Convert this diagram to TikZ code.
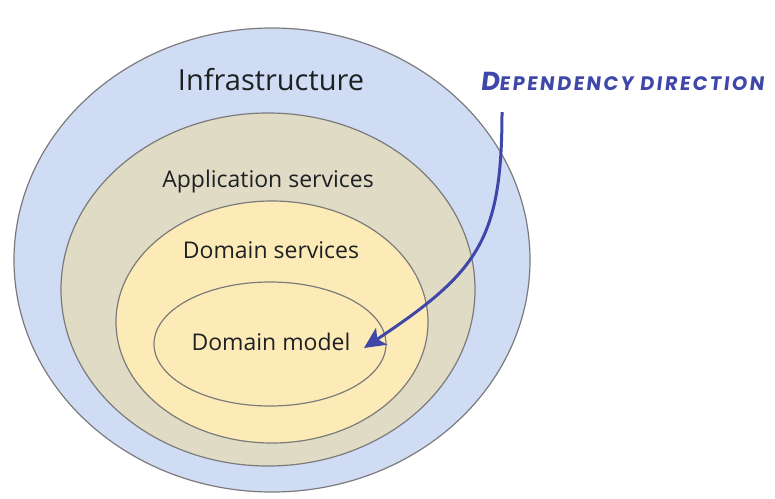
\documentclass[tikz,border=0pt]{standalone}
\usepackage{fontspec}
\setmainfont{Open Sans}
\newfontfamily\labelfont{Open Sans}
\newfontfamily\handfont[FakeSlant=0.12,LetterSpace=12]{Poppins}
\usetikzlibrary{shapes.geometric,arrows.meta}
\definecolor{infrablue}{HTML}{D0DCF4}
\definecolor{appbeige}{HTML}{E0DBC4}
\definecolor{domyellow}{HTML}{FDEBB7}
\definecolor{ringgray}{HTML}{7B7B7B}
\definecolor{depblue}{HTML}{3F47A8}
\definecolor{labelink}{HTML}{1E2124}
\tikzset{
  ring/.style={ellipse, draw=ringgray, line width=1.2pt, inner sep=0pt, outer sep=0pt},
  lbl/.style={text=labelink, inner sep=0pt, anchor=base},
  deparrow/.style={draw=depblue, line width=3pt, -{Stealth[length=21pt,width=20pt,inset=5pt]}},
}
\newcommand{\smc}[1]{{\fontsize{19.5}{20}\selectfont #1}}
\begin{document}
\begin{tikzpicture}[x=1pt,y=-1pt]
\useasboundingbox (0,0) rectangle (775,498);
\node[ring, fill=infrablue, minimum width=516pt, minimum height=464pt] (infra) at (272,260) {};
\node[ring, fill=appbeige, minimum width=414pt, minimum height=353pt] (app) at (268,289.5) {};
\node[ring, fill=domyellow, minimum width=312pt, minimum height=242pt] (dsvc) at (272,322) {};
\node[ring, fill=domyellow, minimum width=232pt, minimum height=124pt] (dmodel) at (270,344) {};
\node[lbl, font=\labelfont\fontsize{29}{30}\selectfont] (tinfra) at (271,90) {Infrastructure};
\node[lbl, font=\labelfont\fontsize{23}{24}\selectfont] (tapp) at (268,187) {Application services};
\node[lbl, font=\labelfont\fontsize{23}{24}\selectfont] (tdsvc) at (271,258) {Domain services};
\node[lbl, font=\labelfont\fontsize{23}{24}\selectfont] (tdmodel) at (271,350) {Domain model};
\node[inner sep=0pt, anchor=base, text=depblue, font=\handfont\bfseries\fontsize{26}{26}\selectfont] (tdep) at (622,90)
  {D\smc{EPENDENCY DIRECTION}};
\coordinate (astart) at (502,112);
\coordinate (aend) at (364,348);
\draw[deparrow] (astart) .. controls (502,240) and (478,272) .. (aend);
\end{tikzpicture}
\end{document}
